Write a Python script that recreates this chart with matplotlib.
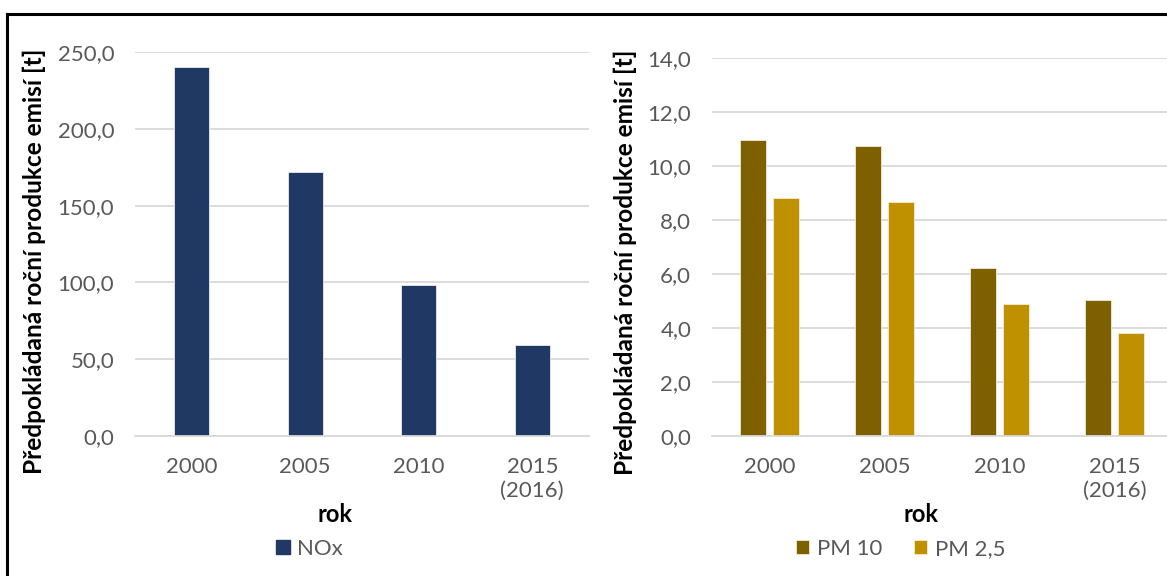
import matplotlib
matplotlib.use("Agg")
import matplotlib.pyplot as plt
from matplotlib.lines import Line2D
from matplotlib.patches import Patch
import numpy as np

plt.rcParams['font.family'] = ['Lato', 'DejaVu Sans']

years = ["2000", "2005", "2010", "2015\n(2016)"]
nox = [240.5, 171.8, 98.0, 59.0]
pm10 = [10.95, 10.75, 6.23, 5.02]
pm25 = [8.82, 8.67, 4.89, 3.83]

ylabel = "Předpokládaná roční produkce emisí [t]"
xlabel = "rok"

grid_c = "#D9D9D9"
tick_c = "#595959"

W, H = 1167, 576
fig = plt.figure(figsize=(W / 100, H / 100), dpi=100)


def style(ax, ymax, step):
    ax.set_ylim(0, ymax)
    ax.set_yticks(np.arange(0, ymax + step / 2, step))
    ax.yaxis.set_major_formatter(matplotlib.ticker.FuncFormatter(lambda v, p: f"{v:.1f}".replace(".", ",")))
    ax.grid(axis='y', color=grid_c, linewidth=1.3)
    ax.set_axisbelow(True)
    for s in ["top", "right", "left"]:
        ax.spines[s].set_visible(False)
    ax.spines["bottom"].set_color(grid_c)
    ax.spines["bottom"].set_linewidth(1.3)
    ax.tick_params(length=0, labelsize=16, colors=tick_c)
    ax.tick_params(axis='y', pad=15)
    ax.tick_params(axis='x', pad=15)
    ax.set_xlim(-0.5, len(years) - 0.5)
    ax.set_xticks(range(len(years)))
    ax.set_xticklabels(years, linespacing=1.25)
    ax.set_ylabel(ylabel, fontsize=17.6, fontweight='bold', color="#000000")
    ax.set_xlabel(xlabel, fontsize=17, fontweight='bold', color="#000000")


x = np.arange(len(years))

# left: NOx
ax1 = fig.add_axes([135 / W, 1 - 436 / H, 454 / W, 384 / H])
ax1.bar(x, nox, width=0.31, color="#203864", edgecolor="#e8ebf0", linewidth=0.6)
style(ax1, 250, 50)
ax1.yaxis.set_label_coords(-0.197, 0.455)
ax1.xaxis.set_label_coords(0.44, -0.175)
ax1.legend(handles=[Patch(color="#203864", label="NOx")], loc="center", bbox_to_anchor=(0.385, -0.294),
           frameon=False, fontsize=16, handlelength=0.6, handleheight=0.6, handletextpad=0.35,
           labelcolor=tick_c)

# right: PM
ax2 = fig.add_axes([712 / W, 1 - 436 / H, 460 / W, 378 / H])
w = 0.23
off = w / 2 + 0.028
ax2.bar(x - off, pm10, width=w, color="#7F6000", edgecolor="#efe9d9", linewidth=0.6, label="PM 10")
ax2.bar(x + off, pm25, width=w, color="#BF9000", edgecolor="#f5ebcc", linewidth=0.6, label="PM 2,5")
style(ax2, 14, 2)
ax2.yaxis.set_label_coords(-0.163, 0.46)
ax2.xaxis.set_label_coords(0.454, -0.178)
ax2.legend(loc="center", bbox_to_anchor=(0.41, -0.299), ncol=2, frameon=False, fontsize=16,
           handlelength=0.6, handleheight=0.6, handletextpad=0.35, columnspacing=1.4,
           labelcolor=tick_c)

# outer frame (top and left edges visible)
fig.add_artist(Line2D([7 / W, 1.0], [1 - 14 / H, 1 - 14 / H], color="black", linewidth=2.2))
fig.add_artist(Line2D([7 / W, 7 / W], [0.0, 1 - 14 / H], color="black", linewidth=2.2))

fig.savefig("out.png", dpi=100)
